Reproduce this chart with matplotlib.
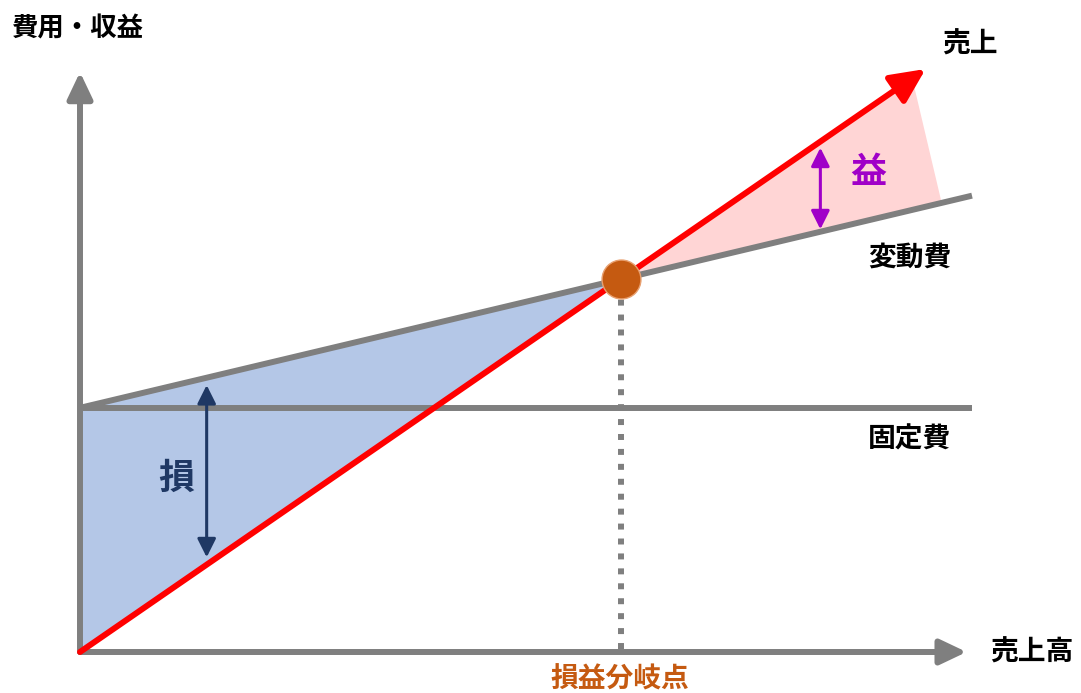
import numpy as np
import matplotlib.pyplot as plt

plt.rcParams['font.family'] = ['Noto Sans CJK JP', 'DejaVu Sans']

# chart values (sales volume on x, amount on y)
x_end = 100.0
fixed_cost = 39.7
var_rate = 0.345
sales_end = 94.8          # where the sales arrow stops
axis_x_end = 99.4
axis_y_end = 94.3
loss_x = 14.2
profit_x = 83.0
profit_fill_top = 93.3
profit_fill_right = 96.6

labels_line = ['売上', '変動費', '固定費']
label_axes = ['費用・収益', '売上高']
bep_label = '損益分岐点'

gray = '#7f7f7f'
red = '#ff0000'
navy = '#1f3864'
purple = '#a000c8'
orange = '#c55a11'

def var_cost(x):
    return fixed_cost + var_rate * x

def sales(x):
    return x

bep_x = fixed_cost / (1 - var_rate)
bep_y = sales(bep_x)

fig = plt.figure(figsize=(10.81, 6.93), dpi=100)
ax = fig.add_axes([0, 0, 1, 1])
# origin of the chart sits at pixel (80, 652)
sx, sy = 8.92, 6.15
ax.set_xlim(-80 / sx, (1081 - 80) / sx)
ax.set_ylim(-(693 - 652) / sy, 652 / sy)
ax.axis('off')

# loss area
ax.fill([0, bep_x, 0], [fixed_cost, bep_y, 0], color='#b4c7e7', lw=0, zorder=1)
# profit area
ax.fill([bep_x, profit_fill_top, profit_fill_right],
        [bep_y, sales(profit_fill_top), var_cost(profit_fill_right)],
        color='#ffd5d5', lw=0, zorder=1)

lw = 4.3
# axes with arrow heads
ax.annotate('', xy=(axis_x_end, 0), xytext=(0, 0),
            arrowprops=dict(arrowstyle='-|>,head_length=0.8,head_width=0.38',
                            color=gray, lw=lw, mutation_scale=20,
                            shrinkA=0, shrinkB=0), zorder=2)
ax.annotate('', xy=(0, axis_y_end), xytext=(0, 0),
            arrowprops=dict(arrowstyle='-|>,head_length=0.8,head_width=0.38',
                            color=gray, lw=lw, mutation_scale=20,
                            shrinkA=0, shrinkB=0), zorder=2)

# fixed cost and variable cost
ax.plot([0, x_end], [fixed_cost, fixed_cost], color=gray, lw=lw, solid_capstyle='butt', zorder=3)
ax.plot([0, x_end], [var_cost(0), var_cost(x_end)], color=gray, lw=lw, solid_capstyle='butt', zorder=3)

# sales line
ax.annotate('', xy=(sales_end, sales(sales_end)), xytext=(0, 0),
            arrowprops=dict(arrowstyle='-|>,head_length=1.05,head_width=0.5',
                            color=red, lw=lw, mutation_scale=20,
                            shrinkA=0, shrinkB=0), zorder=4)

# break-even guide and point
ax.plot([bep_x, bep_x], [0.5, bep_y], color=gray, lw=lw, dashes=(1, 1.5), zorder=3)
ax.plot(bep_x, bep_y, 'o', ms=28, color=orange, mec='#e8a070', mew=1, zorder=5)

# loss / profit arrows
ax.annotate('', xy=(loss_x, var_cost(loss_x) - 1.2), xytext=(loss_x, sales(loss_x) + 1.2),
            arrowprops=dict(arrowstyle='<|-|>,head_length=0.8,head_width=0.4',
                            color=navy, lw=2.2, mutation_scale=14,
                            shrinkA=0, shrinkB=0), zorder=6)
ax.annotate('', xy=(profit_x, sales(profit_x) - 1.0), xytext=(profit_x, var_cost(profit_x) + 0.4),
            arrowprops=dict(arrowstyle='<|-|>,head_length=0.8,head_width=0.4',
                            color=purple, lw=2.2, mutation_scale=14,
                            shrinkA=0, shrinkB=0), zorder=6)

def px(xp, yp):
    return (xp - 80) / sx, (652 - yp) / sy

tk = dict(fontweight='bold', ha='center', va='center', zorder=7)
ax.text(*px(78, 29), label_axes[0], fontsize=19, color='black', **tk)
ax.text(*px(1032, 653), label_axes[1], fontsize=20, color='black', **tk)
ax.text(*px(970, 45), labels_line[0], fontsize=20, color='black', **tk)
ax.text(*px(910, 258), labels_line[1], fontsize=20, color='black', **tk)
ax.text(*px(910, 440), labels_line[2], fontsize=20, color='black', **tk)
ax.text(*px(620, 680), bep_label, fontsize=20, color=orange, **tk)
ax.text(*px(176, 478), '損', fontsize=26, color=navy, **tk)
ax.text(*px(868, 172), '益', fontsize=26, color=purple, **tk)

fig.savefig('out.png', dpi=100)
